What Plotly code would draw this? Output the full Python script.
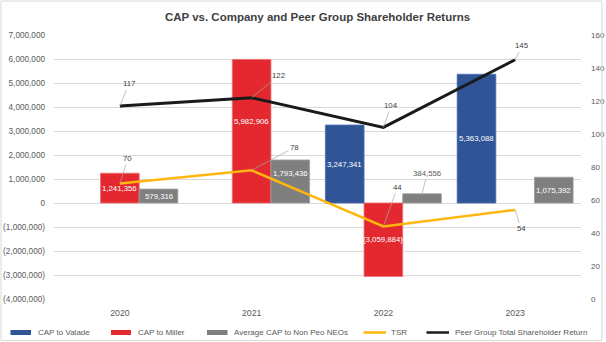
import plotly.graph_objects as go

# ---- data ----
years = ["2020", "2021", "2022", "2023"]
cap_valade = [None, None, 3247341, 5363088]
cap_miller = [1241356, 5982906, -3059884, None]
avg_cap_neos = [579316, 1793436, 384556, 1075392]
tsr = [70, 78, 44, 54]
peer_tsr = [117, 122, 104, 145]

left_ticks = list(range(-4000000, 7000001, 1000000))
right_ticks = list(range(0, 161, 20))

# ---- layout geometry (pixels) ----
W, H = 606, 342
ML, MR, MT, MB = 54, 25, 35, 43
PW, PH = W - ML - MR, H - MT - MB
BARGAP = 0.12
SLOT = (1 - BARGAP) / 3

FONT = "Liberation Sans"
TXT = "#595959"
BLUE, RED, GRAY = "#2F5597", "#E3292F", "#7F7F7F"
YELLOW, BLACK = "#FFB70F", "#1A1A1A"


def px_x(p):
    return (p - ML) / PW


def px_y(p):
    return 1 - (p - MT) / PH


def money(v):
    s = f"{abs(v):,}"
    return f"({s})" if v < 0 else s


xs = list(range(len(years)))
fig = go.Figure()

bar_series = [
    ("CAP to Valade", cap_valade, BLUE, "#4A6FB5"),
    ("CAP to Miller", cap_miller, RED, "#EE6E72"),
    ("Average CAP to Non Peo NEOs", avg_cap_neos, GRAY, "#A0A0A0"),
]
for name, vals, col, edge in bar_series:
    fig.add_trace(go.Bar(
        x=xs, y=vals, name=name, marker=dict(color=col, line=dict(color=edge, width=0.8)),
        showlegend=False, yaxis="y",
    ))

fig.add_trace(go.Scatter(x=xs, y=tsr, name="TSR", mode="lines",
                         line=dict(color=YELLOW, width=2.5), yaxis="y2", showlegend=False))
fig.add_trace(go.Scatter(x=xs, y=peer_tsr, name="Peer Group Total Shareholder Return", mode="lines",
                         line=dict(color=BLACK, width=3), yaxis="y2", showlegend=False))

annotations = []

# bar value labels, centred in each bar; (year index, series slot) -> lift in px
label_lift = {(1, 1): 10, (1, 2): 8}
for slot, (name, vals, col, edge) in enumerate(bar_series):
    for i, v in enumerate(vals):
        if v is None:
            continue
        bx = i + (slot - 1) * SLOT
        if (i, slot) == (2, 2):
            # small bar: label sits above with a leader line
            annotations.append(dict(
                x=bx, y=v, xref="x", yref="y", text=money(v), showarrow=True,
                arrowhead=0, arrowwidth=0.7, arrowcolor="#A6A6A6", ax=5, ay=-20,
                font=dict(family=FONT, size=7.8, color=TXT),
            ))
            continue
        annotations.append(dict(
            x=bx, y=v / 2, xref="x", yref="y", text=money(v), showarrow=False,
            yshift=label_lift.get((i, slot), 0),
            font=dict(family=FONT, size=7.8, color="white"),
        ))

# line value labels with leader lines
peer_offsets = [(9, -22), (27, -22), (8, -22), (7, -14)]
tsr_offsets = [(8, -25), (43, -23), (14, -39), (6, 19)]
for vals, offs in ((peer_tsr, peer_offsets), (tsr, tsr_offsets)):
    for i, v in enumerate(vals):
        ax, ay = offs[i]
        annotations.append(dict(
            x=i, y=v, xref="x", yref="y2", text=str(v), showarrow=True,
            arrowhead=0, arrowwidth=0.7, arrowcolor="#A6A6A6", ax=ax, ay=ay,
            font=dict(family=FONT, size=7.8, color="#404040"),
        ))

# legend drawn along the bottom
shapes = []
legend_y = 332.5
legend_items = [
    ("bar", BLUE, 10.5, 31, "CAP to Valade", 35.5),
    ("bar", RED, 111, 131, "CAP to Miller", 135.5),
    ("bar", GRAY, 207, 227.5, "Average CAP to Non Peo NEOs", 231.5),
    ("line", YELLOW, 363.5, 386, "TSR", 388.5),
    ("line", BLACK, 426.5, 449, "Peer Group Total Shareholder Return", 453),
]
for kind, col, x0, x1, label, tx in legend_items:
    if kind == "bar":
        shapes.append(dict(type="rect", xref="paper", yref="paper",
                           x0=px_x(x0), x1=px_x(x1), y0=px_y(legend_y + 2.5), y1=px_y(legend_y - 2.5),
                           fillcolor=col, line=dict(width=0)))
    else:
        shapes.append(dict(type="line", xref="paper", yref="paper",
                           x0=px_x(x0), x1=px_x(x1), y0=px_y(legend_y), y1=px_y(legend_y),
                           line=dict(color=col, width=2.5)))
    annotations.append(dict(x=px_x(tx), y=px_y(legend_y), xref="paper", yref="paper",
                            xanchor="left", yanchor="middle", showarrow=False, text=label,
                            font=dict(family=FONT, size=8, color=TXT)))

# outer chart border
shapes.append(dict(type="rect", xref="paper", yref="paper",
                   x0=px_x(1), x1=px_x(602), y0=px_y(340.5), y1=px_y(1),
                   line=dict(color="#D9D9D9", width=1), fillcolor="rgba(0,0,0,0)"))

fig.update_layout(
    width=W, height=H,
    margin=dict(l=ML, r=MR, t=MT, b=MB, autoexpand=False),
    paper_bgcolor="white", plot_bgcolor="white",
    barmode="group", bargap=BARGAP, bargroupgap=0,
    title=dict(text="<b>CAP vs. Company and Peer Group Shareholder Returns</b>",
               x=0.5, xref="paper", xanchor="center", y=1 - 17 / H, yanchor="middle",
               font=dict(family=FONT, size=11.5, color="#404040")),
    xaxis=dict(tickmode="array", tickvals=xs, ticktext=years, range=[-0.5, 3.5],
               showgrid=False, zeroline=False, showline=False, ticks="", automargin=False,
               tickfont=dict(family=FONT, size=8.7, color=TXT), ticklabelstandoff=7),
    yaxis=dict(range=[-4000000, 7000000], tickvals=left_ticks,
               ticktext=[money(v) for v in left_ticks], automargin=False,
               showgrid=True, gridcolor="#D9D9D9", gridwidth=1, zeroline=False,
               showline=False, ticks="", tickfont=dict(family=FONT, size=8.2, color=TXT),
               ticklabelstandoff=8),
    yaxis2=dict(range=[0, 160], tickvals=right_ticks, overlaying="y", side="right",
                showgrid=False, zeroline=False, showline=False, ticks="", automargin=False,
                tickfont=dict(family=FONT, size=8, color=TXT), ticklabelstandoff=9),
    annotations=annotations,
    shapes=shapes,
)

fig.write_html("out.html")
